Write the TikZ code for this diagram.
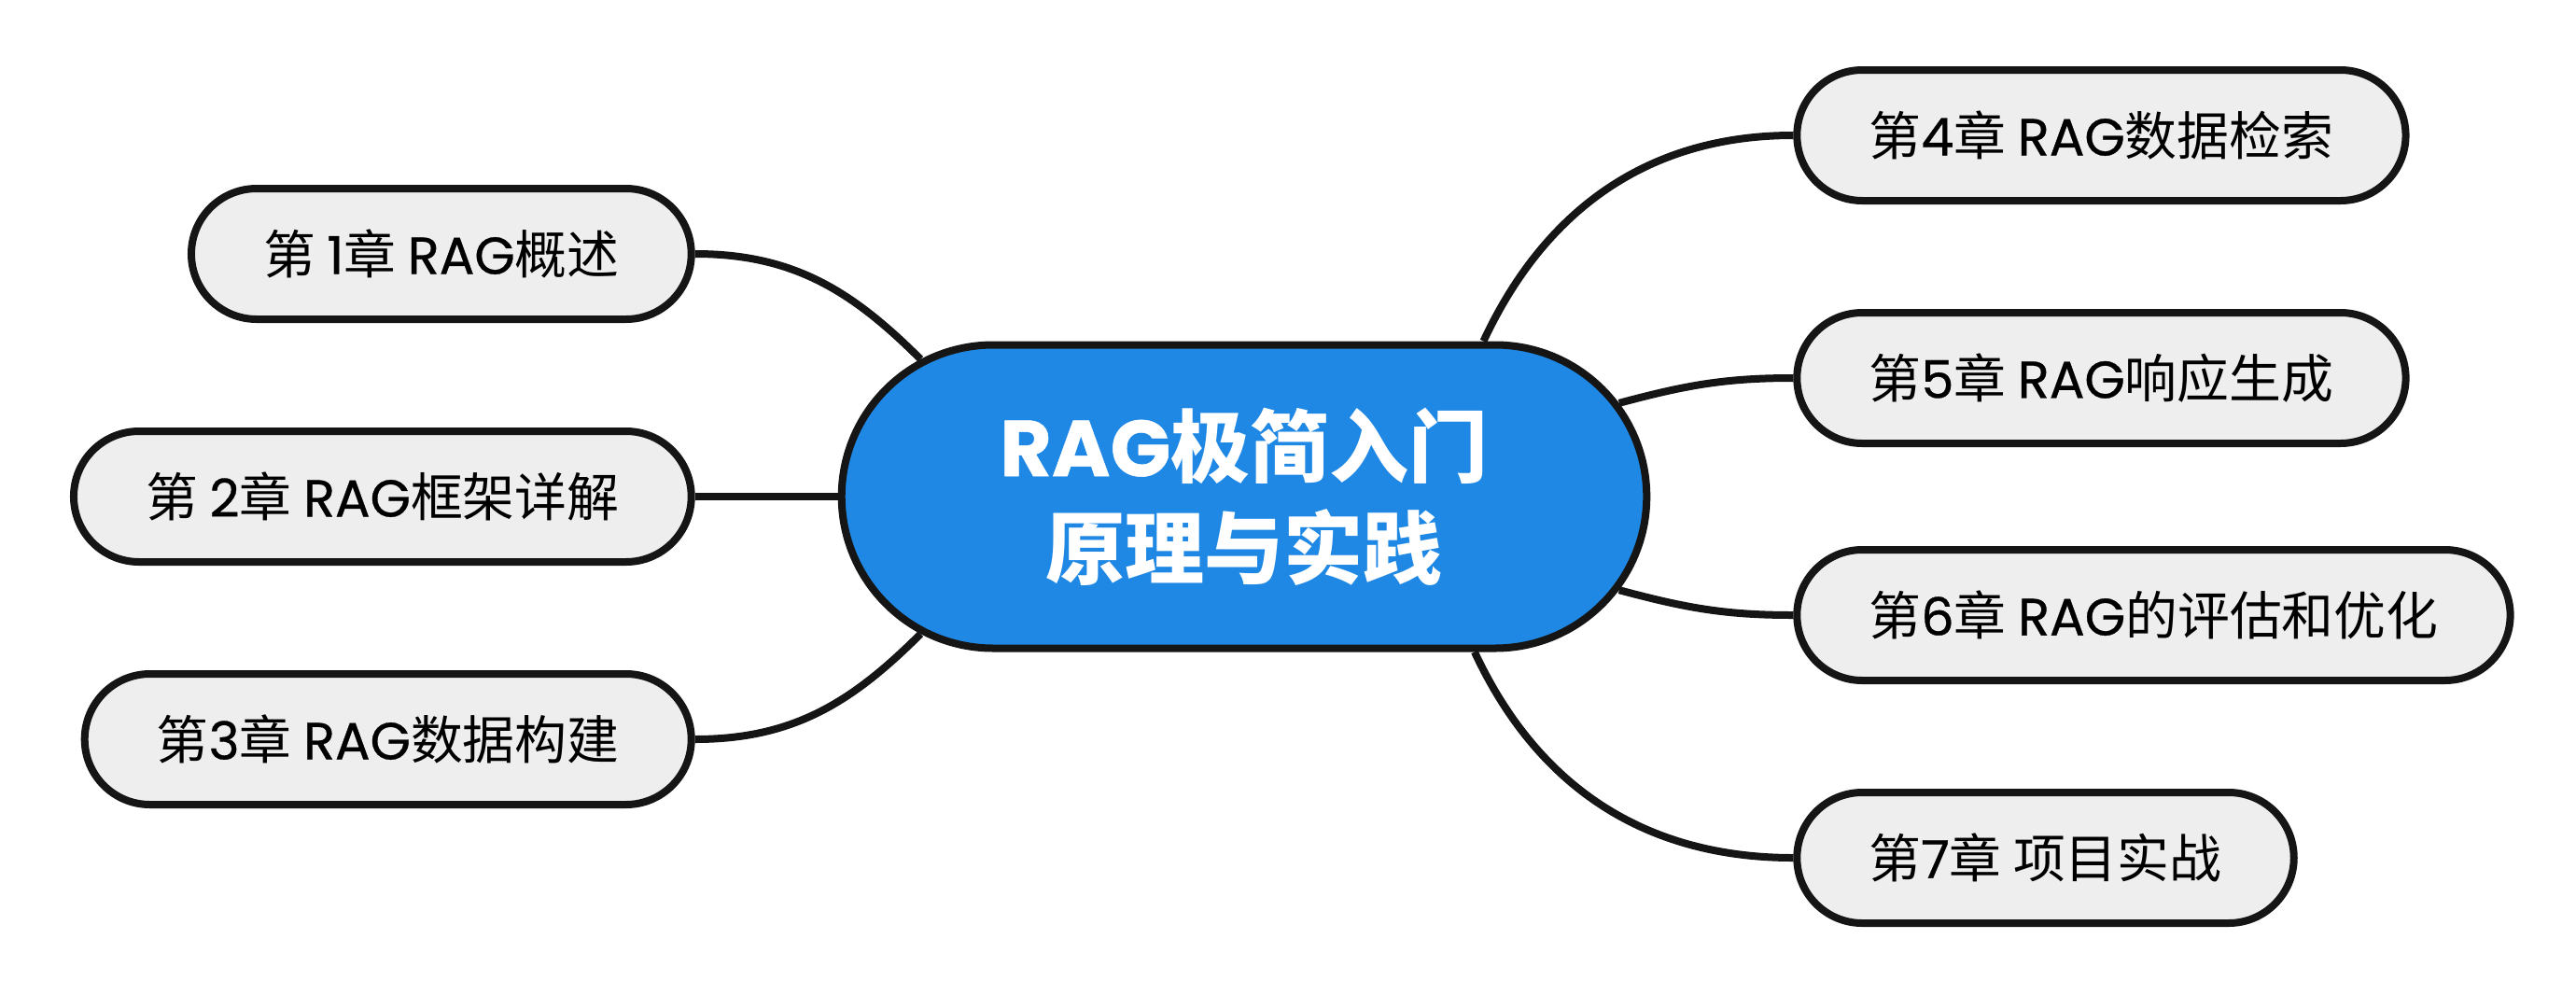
\documentclass[tikz,border=0pt]{standalone}
\usepackage{fontspec}
\setmainfont{Noto Sans CJK SC}
\newfontfamily\latfont{Poppins}[FakeBold=0.6]
\usetikzlibrary{positioning,shapes.misc}
\definecolor{rootblue}{HTML}{1F88E5}
\definecolor{leafgray}{HTML}{EEEEEE}
\definecolor{inkblack}{HTML}{151515}

\begin{document}
\begin{tikzpicture}[node distance=1.12cm and 1.53cm,
 root/.style={rounded rectangle,draw=inkblack,line width=0.08cm,fill=rootblue,
 text=white,align=center,minimum width=8.86cm,minimum height=3.25cm,
 font=\fontsize{24.2}{31}\selectfont\bfseries},
 leaf/.style={rounded rectangle,draw=inkblack,line width=0.08cm,fill=leafgray,
 minimum height=1.4cm,inner xsep=0.72cm,font=\fontsize{15.9}{18}\selectfont},
 link/.style={draw=inkblack,line width=0.08cm}]
 \useasboundingbox (0,0) rectangle (27.6,-10.65);
 \node[root] (root) at (13.33,-5.32) {{\latfont RAG}极简入门\\原理与实践};
 % left side
 \node[leaf,left=of root] (c2) {第 {\latfont 2}章 {\latfont RAG}框架详解};
 \node[leaf,above=of c2.north east,anchor=south east] (c1) {第 {\latfont 1}章 {\latfont RAG}概述};
 \node[leaf,below=of c2.south east,anchor=north east] (c3) {第{\latfont 3}章 {\latfont RAG}数据构建};
 % right side
 \node[leaf,right=of root,yshift=1.27cm] (c5) {第{\latfont 5}章 {\latfont RAG}响应生成};
 \node[leaf,right=of root,yshift=-1.27cm] (c6) {第{\latfont 6}章 {\latfont RAG}的评估和优化};
 \node[leaf,above=of c5.north west,anchor=south west] (c4) {第{\latfont 4}章 {\latfont RAG}数据检索};
 \node[leaf,below=of c6.south west,anchor=north west] (c7) {第{\latfont 7}章 项目实战};
 \draw[link] (root.157) to[out=135,in=0] (c1.east);
 \draw[link] (root.west) -- (c2.east);
 \draw[link] (root.203) to[out=225,in=0] (c3.east);
 \draw[link] (root.33) to[out=65,in=180] (c4.west);
 \draw[link] (root.14) to[out=15,in=180] (c5.west);
 \draw[link] (root.-14) to[out=-15,in=180] (c6.west);
 \draw[link] (root.-34) to[out=-65,in=180] (c7.west);
\end{tikzpicture}
\end{document}
